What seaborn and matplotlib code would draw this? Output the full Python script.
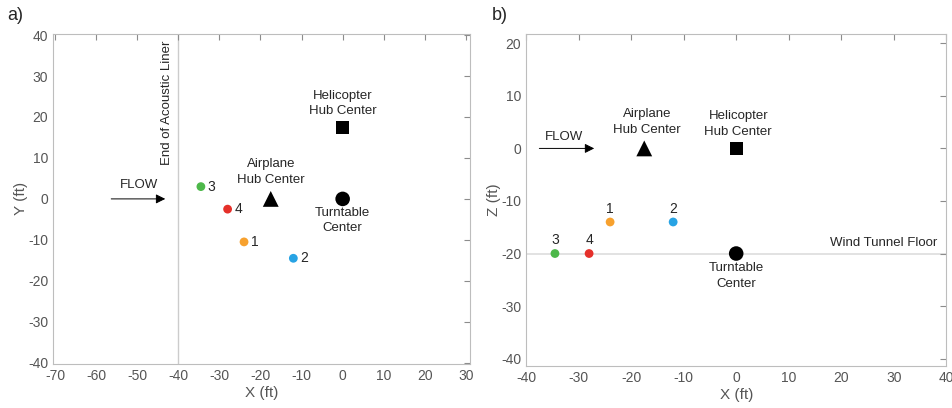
import numpy as np
import pandas as pd
import matplotlib
matplotlib.use("Agg")
import matplotlib.pyplot as plt
import seaborn as sns

sns.set_style("white")
plt.rcParams['font.family'] = ['Liberation Sans', 'DejaVu Sans']
plt.rcParams['axes.unicode_minus'] = False

# microphones (label, colour) and coordinates
mic_labels = ['1', '2', '3', '4']
mic_colors = ['#F7A12E', '#27A3E4', '#4DB84A', '#E5302A']
mic_x = [-24, -12, -34.5, -28]
mic_y = [-10.5, -14.5, 3, -2.5]
mic_z = [-14, -14, -20, -20]

# reference points: airplane hub, helicopter hub, turntable center
ref_names = ['Airplane\nHub Center', 'Helicopter\nHub Center', 'Turntable\nCenter']
ref_markers = ['^', 's', 'o']
ref_x = [-17.5, 0, 0]
ref_y = [0, 17.5, 0]
ref_z = [0, 0, -20]

liner_x = -40
floor_z = -20

mics = pd.DataFrame({'label': mic_labels, 'x': mic_x, 'y': mic_y, 'z': mic_z})
refs = pd.DataFrame({'name': ref_names, 'marker': ref_markers, 'x': ref_x, 'y': ref_y, 'z': ref_z})

fig = plt.figure(figsize=(9.53, 4.08), dpi=100)
ax1 = fig.add_axes([0.0556, 0.108, 0.4376, 0.809])
ax2 = fig.add_axes([0.552, 0.103, 0.441, 0.814])

grey = '#8c8c8c'
tick_col = '#555555'
fs = 10
tfs = 9.5
ls = 1.4


def style(ax, xl, yl, xt, yt, xlab, ylab):
    ax.set_xlim(*xl)
    ax.set_ylim(*yl)
    ax.set_xticks(xt)
    ax.set_yticks(yt)
    ax.tick_params(direction='in', top=True, right=True, length=4, width=0.8,
                   color=grey, labelcolor=tick_col, labelsize=fs)
    for s in ax.spines.values():
        s.set_color('#bdbdbd')
        s.set_linewidth(0.8)
    ax.set_xlabel(xlab, color=tick_col, fontsize=fs + 1, labelpad=2)
    ax.set_ylabel(ylab, color=tick_col, fontsize=fs + 1, labelpad=0)


# ---- panel a: top view ----
ax1.axvline(liner_x, color='#cccccc', lw=1, zorder=0)
sns.scatterplot(data=mics, x='x', y='y', hue='label', palette=mic_colors,
                s=40, edgecolor='none', legend=False, ax=ax1, zorder=3)
for m, sz in zip(ref_markers, [130, 85, 110]):
    sub = refs[refs['marker'] == m]
    sns.scatterplot(data=sub, x='x', y='y', marker=m, color='black', s=sz,
                    edgecolor='none', legend=False, ax=ax1, zorder=3)
for lab, x, y in zip(mic_labels, mic_x, mic_y):
    ax1.text(x + 1.6, y, lab, fontsize=tfs + 0.5, va='center', ha='left')
ax1.text(-17.5, 6.5, ref_names[0], ha='center', va='center', fontsize=tfs, linespacing=ls)
ax1.text(0, 23.3, ref_names[1], ha='center', va='center', fontsize=tfs, linespacing=ls)
ax1.text(0, -5.3, ref_names[2], ha='center', va='center', fontsize=tfs, linespacing=ls)
ax1.text(-41.3, 8.3, 'End of Acoustic Liner', rotation=90, ha='right', va='bottom', fontsize=tfs)
ax1.annotate('', xy=(-42.5, 0), xytext=(-57, 0),
             arrowprops=dict(arrowstyle='-|>', color='black', lw=0.7, mutation_scale=14))
ax1.text(-49.5, 3.3, 'FLOW', ha='center', va='center', fontsize=tfs)
style(ax1, (-70.5, 31), (-40.3, 40.3), np.arange(-70, 31, 10), np.arange(-40, 41, 10),
      'X (ft)', 'Y (ft)')

# ---- panel b: side view ----
ax2.axhline(floor_z, color='#dddddd', lw=1.2, zorder=0)
sns.scatterplot(data=mics, x='x', y='z', hue='label', palette=mic_colors,
                s=40, edgecolor='none', legend=False, ax=ax2, zorder=3)
for m, sz in zip(ref_markers, [130, 85, 110]):
    sub = refs[refs['marker'] == m]
    sns.scatterplot(data=sub, x='x', y='z', marker=m, color='black', s=sz,
                    edgecolor='none', legend=False, ax=ax2, zorder=3)
for lab, x, z in zip(mic_labels, mic_x, mic_z):
    ax2.text(x, z + 1.2, lab, fontsize=tfs + 0.5, va='bottom', ha='center')
ax2.text(-17, 5.0, ref_names[0], ha='center', va='center', fontsize=tfs, linespacing=ls)
ax2.text(0.4, 4.6, ref_names[1], ha='center', va='center', fontsize=tfs, linespacing=ls)
ax2.text(0, -24.3, ref_names[2], ha='center', va='center', fontsize=tfs, linespacing=ls)
ax2.text(38.3, -18, 'Wind Tunnel Floor', ha='right', va='center', fontsize=tfs)
ax2.annotate('', xy=(-26.5, 0), xytext=(-38, 0),
             arrowprops=dict(arrowstyle='-|>', color='black', lw=0.7, mutation_scale=14))
ax2.text(-32.8, 2.2, 'FLOW', ha='center', va='center', fontsize=tfs)
style(ax2, (-40, 40), (-41.4, 21.8), np.arange(-40, 41, 10), np.arange(-40, 21, 10),
      'X (ft)', 'Z (ft)')

fig.text(0.008, 0.963, 'a)', fontsize=13, va='center')
fig.text(0.516, 0.963, 'b)', fontsize=13, va='center')

fig.savefig('out.png', dpi=100)
